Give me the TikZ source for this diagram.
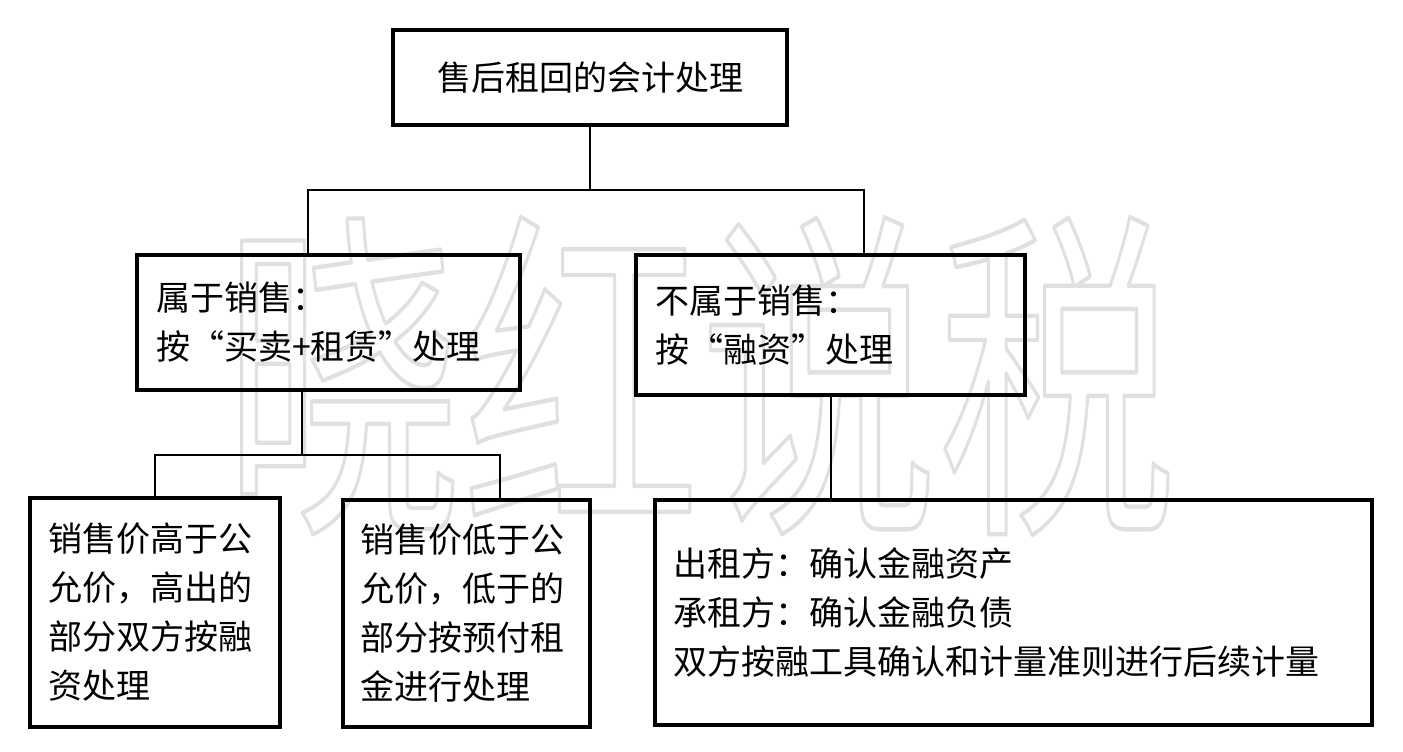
\documentclass[tikz,border=0pt]{standalone}
\usepackage{fontspec}
\setmainfont{Noto Sans CJK SC}
\newfontfamily\cjk{Noto Sans CJK SC}
\tikzset{
  box/.style={draw, line width=4.5pt, inner ysep=0pt, align=left},
  conn/.style={line width=2pt},
  txt/.style={font=\cjk\fontsize{34}{49}\selectfont},
}
\begin{document}
\begin{tikzpicture}[x=1pt,y=-1pt]
\useasboundingbox (0,0) rectangle (1403,752);
% watermark
\node[inner sep=0, font=\cjk\fontsize{238}{238}\selectfont] (wm) at (700,376)
  {\special{pdf:literal direct 1 Tr 3 w 1 j 1 J 0.88 G}\scalebox{1}[1.45]{晓红说税}\special{pdf:literal direct 0 Tr 0 G}};
% boxes
\node[box, txt, align=center, minimum width=394, minimum height=95] (top) at (590,77.5) {售后租回的会计处理};
\node[box, txt, text width=345, inner xsep=19, minimum height=135] (mid1) at (328.5,322.5) {属于销售：\\按“买卖+租赁”处理};
\node[box, txt, text width=351, inner xsep=19, minimum height=140] (mid2) at (830.5,325) {不属于销售：\\按“融资”处理};
\node[box, txt, text width=214, inner xsep=18, minimum height=229] (b1) at (155,612.5) {销售价高于公\\允价，高出的\\部分双方按融\\资处理};
\node[box, txt, text width=213, inner xsep=17, minimum height=227] (b2) at (466.5,613.5) {销售价低于公\\允价，低于的\\部分按预付租\\金进行处理};
\node[box, txt, text width=681, inner xsep=18, minimum height=225] (b3) at (1013.5,612.5) {出租方：确认金融资产\\承租方：确认金融负债\\双方按融工具确认和计量准则进行后续计量};
% connectors
\coordinate (j0) at (590,190);
\coordinate (jl) at (308,190);
\coordinate (jr) at (864,190);
\draw[conn] (top.south) -- (j0);
\draw[conn] (jl |- mid1.north) -- (jl) -- (jr) -- (jr |- mid2.north);
\coordinate (k0) at (302,455);
\coordinate (kl) at (155,455);
\coordinate (kr) at (500,455);
\draw[conn] (k0 |- mid1.south) -- (k0);
\draw[conn] (kl |- b1.north) -- (kl) -- (kr) -- (kr |- b2.north);
\coordinate (m0) at (831,455);
\draw[conn] (m0 |- mid2.south) -- (m0 |- b3.north);
\end{tikzpicture}
\end{document}
